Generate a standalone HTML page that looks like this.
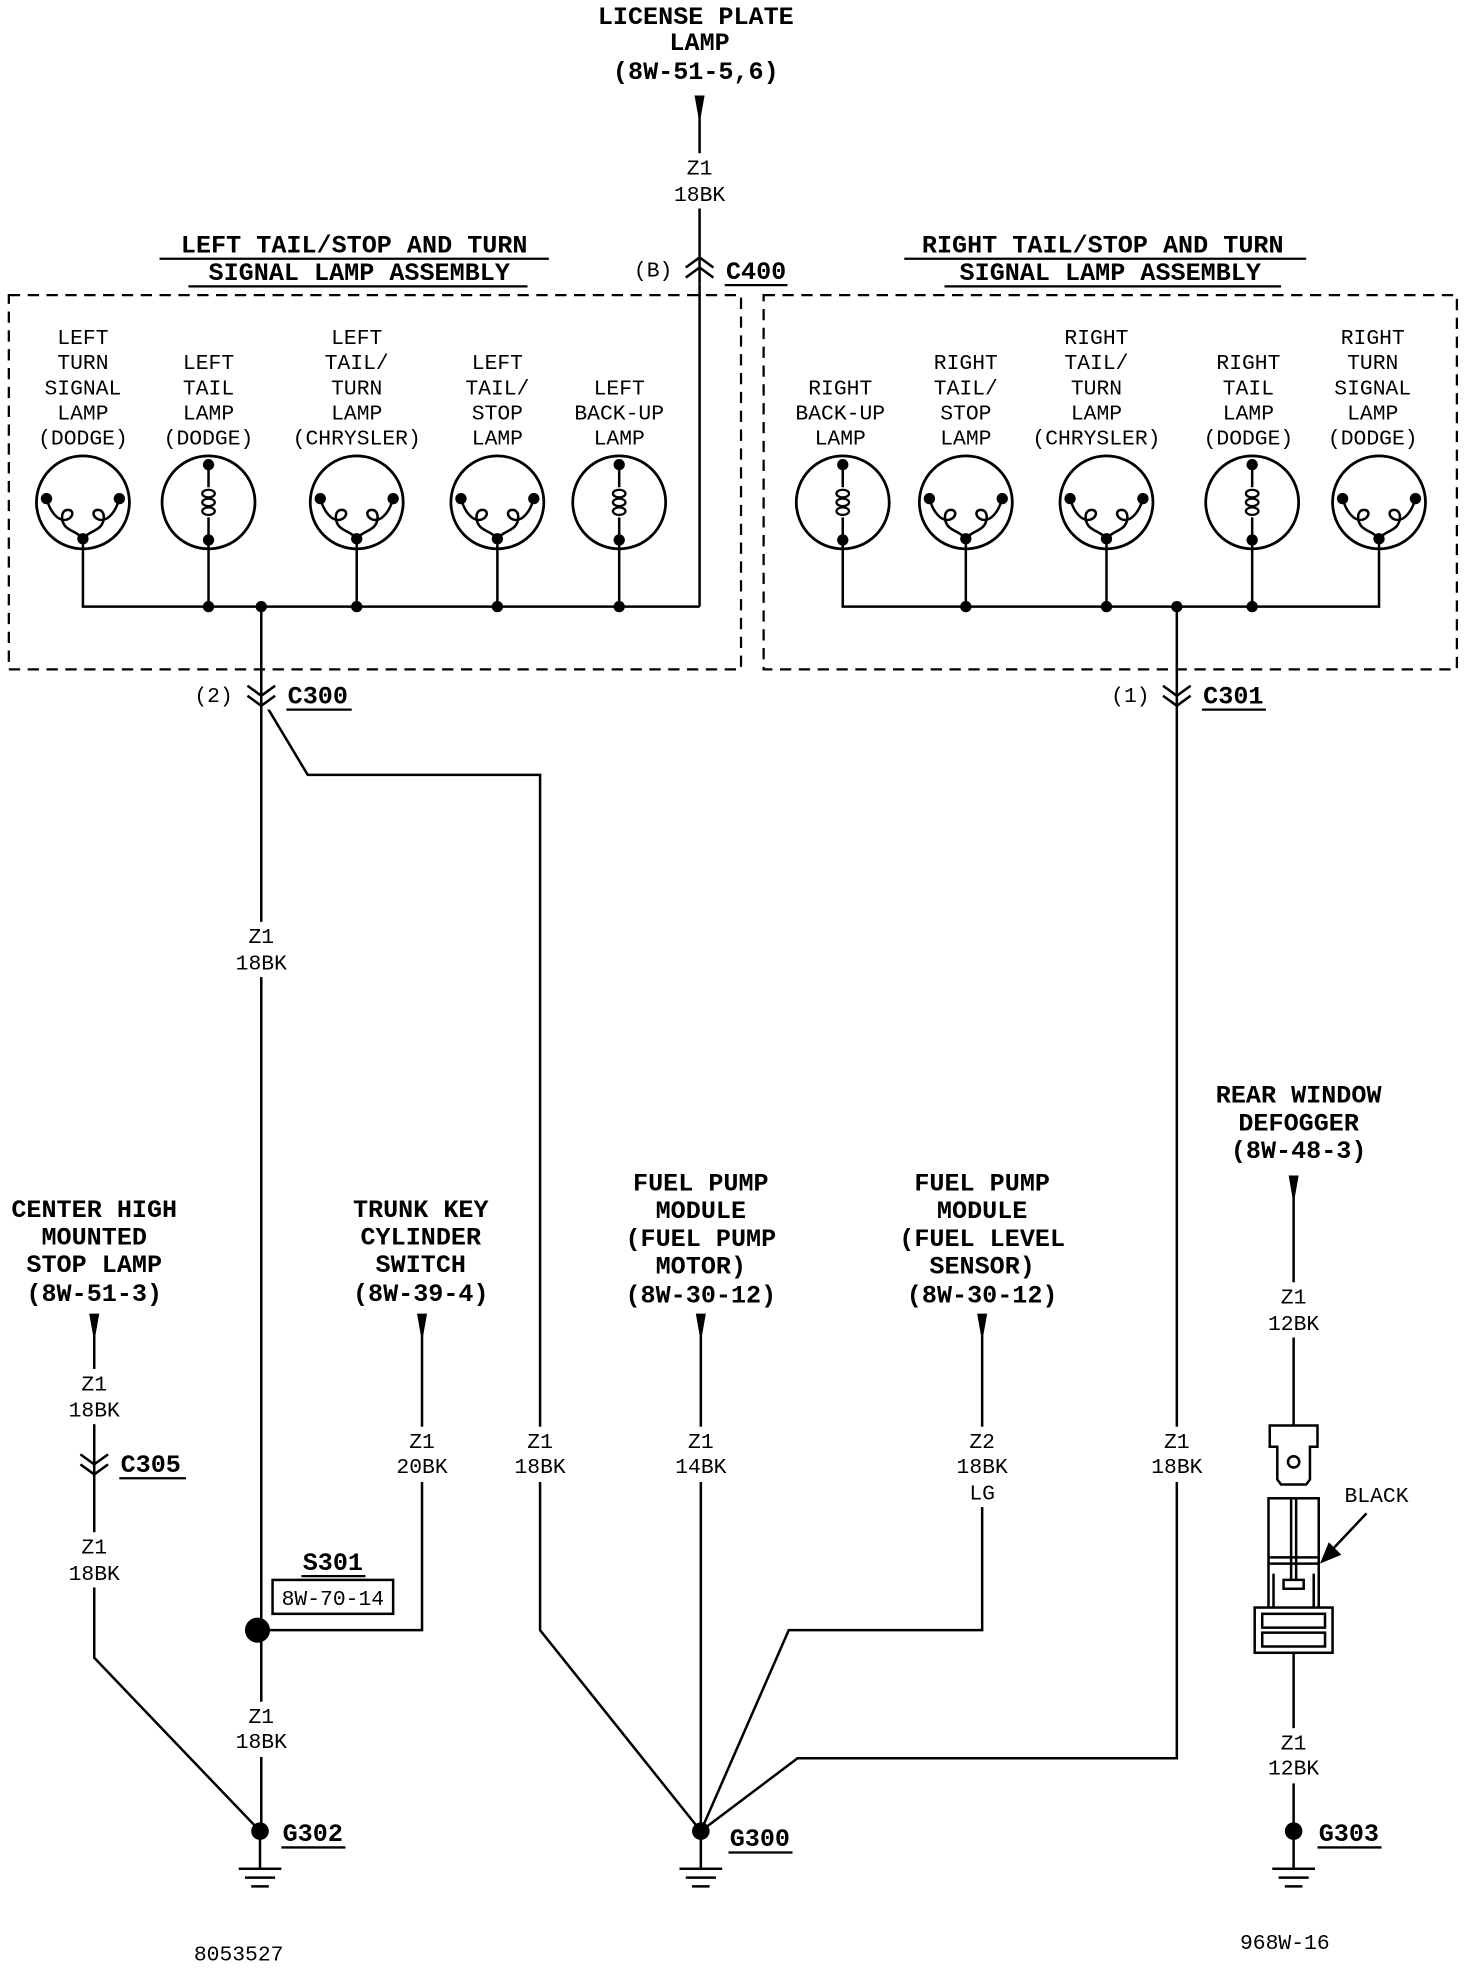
<!DOCTYPE html>
<html><head><meta charset="utf-8"><style>
html,body{margin:0;padding:0;background:#fff}
svg{display:block}
text{font-family:"Liberation Mono",monospace;fill:#000}
.n{font-size:17px}
.b{font-size:20px;font-weight:bold}
</style></head><body>
<svg width="1472" height="1968" viewBox="0 0 1172 1567" xmlns="http://www.w3.org/2000/svg">
<defs>
<g id="l2">
<circle r="37" fill="none" stroke="#000" stroke-width="2.2"/>
<path d="M-29,-3 C-26,8 -20,14 -15,14 C-8,14 -6,6 -12,6 C-18,6 -18,16 -13,20 C-8,24 -4,24 0,29 M29,-3 C26,8 20,14 15,14 C8,14 6,6 12,6 C18,6 18,16 13,20 C8,24 4,24 0,29" fill="none" stroke="#000" stroke-width="2"/>
<circle cx="-29" cy="-3" r="4.5"/><circle cx="29" cy="-3" r="4.5"/><circle cx="0" cy="29" r="4.5"/>
</g>
<g id="l1">
<circle r="37" fill="none" stroke="#000" stroke-width="2.2"/>
<path d="M0,-30 L0,-12 M0,12 L0,30" stroke="#000" stroke-width="2"/>
<ellipse cx="0" cy="-7" rx="5" ry="3" fill="none" stroke="#000" stroke-width="1.8"/>
<ellipse cx="0" cy="0" rx="5" ry="3" fill="none" stroke="#000" stroke-width="1.8"/>
<ellipse cx="0" cy="7" rx="5" ry="3" fill="none" stroke="#000" stroke-width="1.8"/>
<circle cx="0" cy="-30" r="4.5"/><circle cx="0" cy="30" r="4.5"/>
</g>
<path id="ar" d="M-4,0 L4,0 L1,17 L-1,17 Z"/>
<path id="cd" d="M-11,-7 L0,1 L11,-7 M-11,1 L0,9 L11,1" fill="none" stroke="#000" stroke-width="2"/>
<path id="cu" d="M-11,7 L0,-1 L11,7 M-11,-1 L0,-9 L11,-1" fill="none" stroke="#000" stroke-width="2"/>
<g id="gnd"><path d="M0,0 L0,30 M-17,30 L17,30 M-12,37 L12,37 M-7,44 L7,44" stroke="#000" stroke-width="2" fill="none"/></g>
</defs>

<rect x="7" y="235" width="583" height="298" fill="none" stroke="#000" stroke-width="1.8" stroke-dasharray="9,6"/>
<rect x="608" y="235" width="552" height="298" fill="none" stroke="#000" stroke-width="1.8" stroke-dasharray="9,6"/>

<g stroke="#000" stroke-width="2" fill="none">
<path d="M557,80 L557,483"/>
<path d="M66,430 L66,483 L557,483 M166,430 L166,483 M284,430 L284,483 M396,430 L396,483 M493,430 L493,483"/>
<path d="M671,430 L671,483 L1098,483 L1098,430 M769,430 L769,483 M881,430 L881,483 M997,430 L997,483"/>
<path d="M208,483 L208,1298 M208,1298 L208,1458"/>
<path d="M212,562 L245,617 L430,617 L430,1298 L558,1458"/>
<path d="M937,483 L937,1400 L635,1400 L558,1458"/>
<path d="M558,1060 L558,1458"/>
<path d="M782,1060 L782,1298 L628,1298 L558,1458"/>
<path d="M336,1060 L336,1298 L215,1298"/>
<path d="M75,1060 L75,1320 L207,1458"/>
<path d="M1030,945 L1030,1135 M1030,1315 L1030,1458"/>
</g>

<rect x="544" y="204" width="26" height="22" fill="#fff"/><use href="#cu" x="557" y="214"/><line x1="557" y1="204" x2="557" y2="226" stroke="#000" stroke-width="2"/>
<rect x="195" y="543" width="26" height="22" fill="#fff"/><use href="#cd" x="208" y="553"/><line x1="208" y1="543" x2="208" y2="565" stroke="#000" stroke-width="2"/>
<rect x="924" y="543" width="26" height="22" fill="#fff"/><use href="#cd" x="937" y="553"/><line x1="937" y1="543" x2="937" y2="565" stroke="#000" stroke-width="2"/>
<rect x="62" y="1155" width="26" height="22" fill="#fff"/><use href="#cd" x="75" y="1165"/><line x1="75" y1="1155" x2="75" y2="1177" stroke="#000" stroke-width="2"/>

<use href="#l2" x="66" y="400"/><use href="#l1" x="166" y="400"/><use href="#l2" x="284" y="400"/><use href="#l2" x="396" y="400"/><use href="#l1" x="493" y="400"/>
<use href="#l1" x="671" y="400"/><use href="#l2" x="769" y="400"/><use href="#l2" x="881" y="400"/><use href="#l1" x="997" y="400"/><use href="#l2" x="1098" y="400"/>
<g>
<circle cx="166" cy="483" r="4.5"/><circle cx="208" cy="483" r="4.5"/><circle cx="284" cy="483" r="4.5"/><circle cx="396" cy="483" r="4.5"/><circle cx="493" cy="483" r="4.5"/>
<circle cx="769" cy="483" r="4.5"/><circle cx="881" cy="483" r="4.5"/><circle cx="937" cy="483" r="4.5"/><circle cx="997" cy="483" r="4.5"/>
<circle cx="205" cy="1298" r="10"/>
<circle cx="207" cy="1458" r="7"/><circle cx="558" cy="1458" r="7"/><circle cx="1030" cy="1458" r="7"/>
</g>
<use href="#gnd" x="207" y="1458"/><use href="#gnd" x="558" y="1458"/><use href="#gnd" x="1030" y="1458"/>

<use href="#ar" x="557" y="76"/><use href="#ar" x="75" y="1046"/><use href="#ar" x="336" y="1046"/><use href="#ar" x="558" y="1046"/><use href="#ar" x="782" y="1046"/><use href="#ar" x="1030" y="936"/>

<g fill="#fff">
<rect x="535" y="122" width="45" height="44"/>
<rect x="185" y="734" width="46" height="44"/>
<rect x="52" y="1090" width="46" height="44"/><rect x="52" y="1220" width="46" height="44"/>
<rect x="313" y="1136" width="46" height="44"/><rect x="407" y="1136" width="46" height="44"/>
<rect x="535" y="1136" width="46" height="44"/><rect x="759" y="1136" width="46" height="64"/>
<rect x="914" y="1136" width="46" height="44"/><rect x="1007" y="1021" width="46" height="44"/>
<rect x="1007" y="1376" width="46" height="44"/><rect x="185" y="1355" width="46" height="44"/>
</g>

<g stroke="#000" stroke-width="2" fill="#fff">
<path d="M1011,1135 L1049,1135 L1049,1152 L1043,1152 L1043,1178 L1040,1182 L1020,1182 L1017,1178 L1017,1152 L1011,1152 Z"/>
<circle cx="1030" cy="1164" r="4.5"/>
<rect x="1010" y="1193" width="40" height="88"/>
<path d="M1028,1193 L1028,1258 M1032,1193 L1032,1258 M1010,1240 L1050,1240 M1010,1245 L1050,1245 M1022,1258 L1038,1258 L1038,1265 L1022,1265 Z M1014,1253 L1014,1281 M1046,1253 L1046,1281"/>
<rect x="999" y="1280" width="62" height="36"/>
<rect x="1005" y="1285" width="50" height="11"/>
<rect x="1005" y="1300" width="50" height="11"/>
<path d="M1088,1205 L1054,1241" fill="none"/>
</g>
<path d="M1051,1245 L1058,1228 L1068,1238 Z"/>

<g class="b" text-anchor="middle">
<text x="554" y="19">LICENSE PLATE</text><text x="557" y="40">LAMP</text><text x="554" y="63">(8W-51-5,6)</text>
<text x="282" y="201">LEFT TAIL/STOP AND TURN</text><text x="286" y="223">SIGNAL LAMP ASSEMBLY</text>
<text x="878" y="201">RIGHT TAIL/STOP AND TURN</text><text x="884" y="223">SIGNAL LAMP ASSEMBLY</text>
<text x="75" y="969">CENTER HIGH</text><text x="75" y="991">MOUNTED</text><text x="75" y="1013">STOP LAMP</text><text x="75" y="1036">(8W-51-3)</text>
<text x="335" y="969">TRUNK KEY</text><text x="335" y="991">CYLINDER</text><text x="335" y="1013">SWITCH</text><text x="335" y="1036">(8W-39-4)</text>
<text x="558" y="948">FUEL PUMP</text><text x="558" y="970">MODULE</text><text x="558" y="992">(FUEL PUMP</text><text x="558" y="1014">MOTOR)</text><text x="558" y="1037">(8W-30-12)</text>
<text x="782" y="948">FUEL PUMP</text><text x="782" y="970">MODULE</text><text x="782" y="992">(FUEL LEVEL</text><text x="782" y="1014">SENSOR)</text><text x="782" y="1037">(8W-30-12)</text>
<text x="1034" y="878">REAR WINDOW</text><text x="1034" y="900">DEFOGGER</text><text x="1034" y="922">(8W-48-3)</text>
</g>
<g class="b">
<text x="578" y="222">C400</text><text x="229" y="560">C300</text><text x="958" y="560">C301</text><text x="96" y="1172">C305</text>
<text x="241" y="1250">S301</text><text x="225" y="1466">G302</text><text x="581" y="1470">G300</text><text x="1050" y="1466">G303</text>
</g>
<g stroke="#000" stroke-width="1.8">
<line x1="127" y1="206" x2="437" y2="206"/><line x1="150" y1="228" x2="420" y2="228"/>
<line x1="720" y1="206" x2="1040" y2="206"/><line x1="752" y1="228" x2="1020" y2="228"/>
<line x1="577" y1="227" x2="627" y2="227"/><line x1="228" y1="565" x2="280" y2="565"/>
<line x1="957" y1="565" x2="1008" y2="565"/><line x1="95" y1="1177" x2="148" y2="1177"/>
<line x1="240" y1="1255" x2="291" y2="1255"/><line x1="224" y1="1471" x2="275" y2="1471"/>
<line x1="580" y1="1475" x2="631" y2="1475"/><line x1="1049" y1="1471" x2="1100" y2="1471"/>
</g>
<rect x="217" y="1258" width="96" height="27" fill="none" stroke="#000" stroke-width="2"/>
<g class="n" text-anchor="middle">
<text x="265" y="1278">8W-70-14</text>
<text x="520" y="220">(B)</text><text x="170" y="559">(2)</text><text x="900" y="559">(1)</text>
<text x="557" y="139">Z1</text><text x="557" y="160">18BK</text>
<text x="208" y="751">Z1</text><text x="208" y="772">18BK</text>
<text x="75" y="1107">Z1</text><text x="75" y="1128">18BK</text>
<text x="75" y="1237">Z1</text><text x="75" y="1258">18BK</text>
<text x="336" y="1153">Z1</text><text x="336" y="1173">20BK</text>
<text x="430" y="1153">Z1</text><text x="430" y="1173">18BK</text>
<text x="558" y="1153">Z1</text><text x="558" y="1173">14BK</text>
<text x="782" y="1153">Z2</text><text x="782" y="1173">18BK</text><text x="782" y="1194">LG</text>
<text x="937" y="1153">Z1</text><text x="937" y="1173">18BK</text>
<text x="1030" y="1038">Z1</text><text x="1030" y="1059">12BK</text>
<text x="1030" y="1393">Z1</text><text x="1030" y="1413">12BK</text>
<text x="208" y="1372">Z1</text><text x="208" y="1392">18BK</text>
<text x="1096" y="1196">BLACK</text>
<text x="190" y="1561">8053527</text><text x="1023" y="1552">968W-16</text>
<text x="66" y="274">LEFT</text><text x="66" y="294">TURN</text><text x="66" y="314">SIGNAL</text><text x="66" y="334">LAMP</text><text x="66" y="354">(DODGE)</text>
<text x="166" y="294">LEFT</text><text x="166" y="314">TAIL</text><text x="166" y="334">LAMP</text><text x="166" y="354">(DODGE)</text>
<text x="284" y="274">LEFT</text><text x="284" y="294">TAIL/</text><text x="284" y="314">TURN</text><text x="284" y="334">LAMP</text><text x="284" y="354">(CHRYSLER)</text>
<text x="396" y="294">LEFT</text><text x="396" y="314">TAIL/</text><text x="396" y="334">STOP</text><text x="396" y="354">LAMP</text>
<text x="493" y="314">LEFT</text><text x="493" y="334">BACK-UP</text><text x="493" y="354">LAMP</text>
<text x="669" y="314">RIGHT</text><text x="669" y="334">BACK-UP</text><text x="669" y="354">LAMP</text>
<text x="769" y="294">RIGHT</text><text x="769" y="314">TAIL/</text><text x="769" y="334">STOP</text><text x="769" y="354">LAMP</text>
<text x="873" y="274">RIGHT</text><text x="873" y="294">TAIL/</text><text x="873" y="314">TURN</text><text x="873" y="334">LAMP</text><text x="873" y="354">(CHRYSLER)</text>
<text x="994" y="294">RIGHT</text><text x="994" y="314">TAIL</text><text x="994" y="334">LAMP</text><text x="994" y="354">(DODGE)</text>
<text x="1093" y="274">RIGHT</text><text x="1093" y="294">TURN</text><text x="1093" y="314">SIGNAL</text><text x="1093" y="334">LAMP</text><text x="1093" y="354">(DODGE)</text>
</g>
</svg>
</body></html>
